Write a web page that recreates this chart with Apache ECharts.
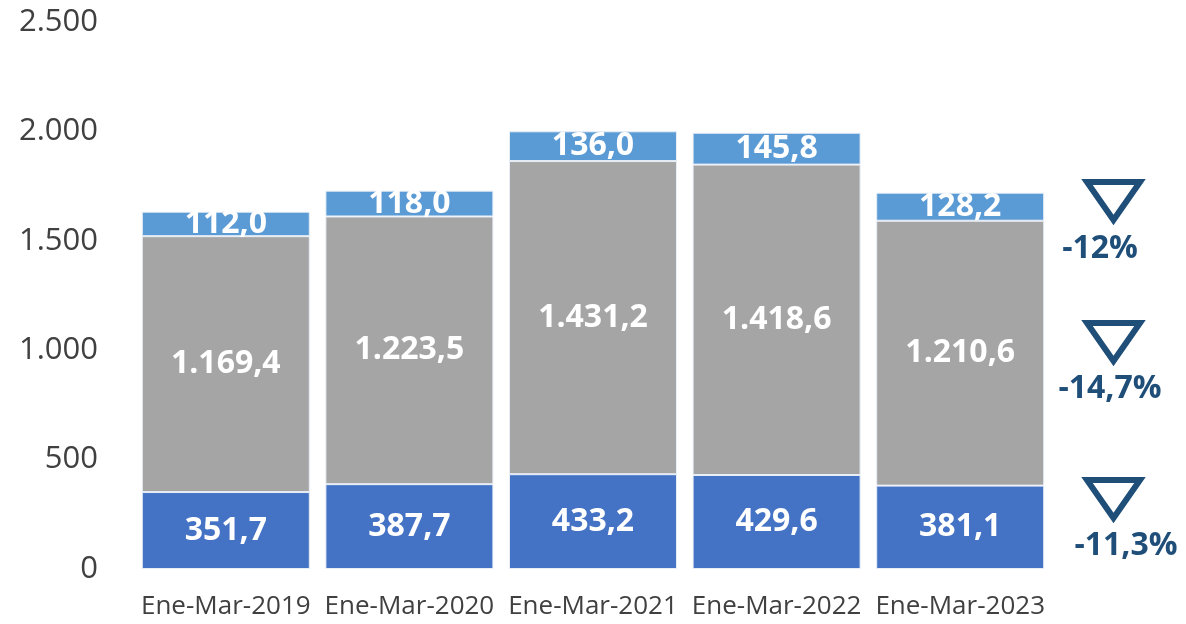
<!DOCTYPE html>
<html lang="es">
<head>
<meta charset="UTF-8">
<title>Ene-Mar 2019-2023</title>
<style>
  html, body { margin: 0; padding: 0; background: #fff; }
  #chart { width: 1186px; height: 624px; }
</style>
</head>
<body>
<div id="chart"></div>
<script src="https://cdn.jsdelivr.net/npm/echarts@6/dist/echarts.min.js"></script>
<script>
// datos
var categorias = ['Ene-Mar-2019', 'Ene-Mar-2020', 'Ene-Mar-2021', 'Ene-Mar-2022', 'Ene-Mar-2023'];
var serieBase = [351.7, 387.7, 433.2, 429.6, 381.1];
var serieMedia = [1169.4, 1223.5, 1431.2, 1418.6, 1210.6];
var serieAlta = [112.0, 118.0, 136.0, 145.8, 128.2];
var variaciones = ['-12%', '-14,7%', '-11,3%'];

// formato es: 1.169,4
function fmt(v, dec) {
    var s = v.toFixed(dec);
    var parts = s.split('.');
    parts[0] = parts[0].replace(/\B(?=(\d{3})+(?!\d))/g, '.');
    return parts.length > 1 ? parts[0] + ',' + parts[1] : parts[0];
}

var fuente = '"Open Sans", sans-serif';
var etiqueta = {
    show: true,
    position: 'inside',
    color: '#fff',
    fontFamily: fuente,
    fontWeight: 'bold',
    fontSize: 32,
    formatter: function (p) { return fmt(p.value, 1); }
};

function serie(nombre, datos, color) {
    return {
        name: nombre,
        type: 'bar',
        stack: 'total',
        barWidth: '91.5%',
        data: datos,
        itemStyle: { color: color, borderColor: '#e8eef6', borderWidth: 1 },
        label: etiqueta
    };
}

// triangulos y textos de variacion (a la derecha)
var trianguloY = [179, 320, 477];
var textoPos = [[1100, 249], [1110, 389], [1126, 546]];
var graficos = [];
trianguloY.forEach(function (y, i) {
    graficos.push({
        type: 'polygon',
        shape: { points: [[1087, y + 3], [1140, y + 3], [1113.5, y + 41]] },
        style: { fill: 'none', stroke: '#1f4e79', lineWidth: 6, lineJoin: 'miter' }
    });
    graficos.push({
        type: 'text',
        x: textoPos[i][0],
        y: textoPos[i][1],
        style: {
            text: variaciones[i],
            fill: '#1f4e79',
            font: 'bold 32px ' + fuente,
            align: 'center',
            verticalAlign: 'middle'
        }
    });
});

var myChart = echarts.init(document.getElementById('chart'));
var option = {
    animation: false,
    grid: { left: 134, right: 134, top: 22, bottom: 55 },
    xAxis: {
        type: 'category',
        data: categorias,
        axisLine: { show: false },
        axisTick: { show: false },
        axisLabel: { color: '#404040', fontFamily: fuente, fontSize: 26, margin: 25, interval: 0 }
    },
    yAxis: {
        type: 'value',
        min: 0,
        max: 2500,
        interval: 500,
        splitLine: { show: false },
        axisLabel: {
            color: '#404040',
            fontFamily: fuente,
            fontSize: 31,
            margin: 36,
            formatter: function (v) { return fmt(v, 0); }
        }
    },
    series: [
        serie('base', serieBase, '#4472c4'),
        serie('media', serieMedia, '#a5a5a5'),
        serie('alta', serieAlta, '#5b9bd5')
    ],
    graphic: graficos
};
myChart.setOption(option);
</script>
</body>
</html>
